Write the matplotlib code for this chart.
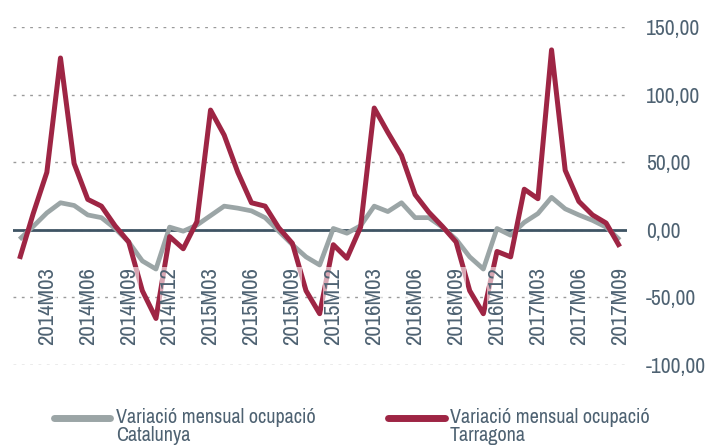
import matplotlib
matplotlib.use("Agg")
import matplotlib.pyplot as plt
from matplotlib.lines import Line2D
import numpy as np

months = [f"{y}M{m:02d}" for y in range(2014, 2018) for m in range(1, 13)][:45]
catalunya = [-7, 2.5, 12.5, 20, 18, 11, 9, 1, -9, -23, -29, 2,
             -1, 3.5, 10.5, 17.5, 16, 14, 9, -1, -11, -20, -26, 1,
             -2.5, 3, 17.5, 13.5, 20, 9, 9, 2, -7, -20, -29, 1,
             -4, 5.5, 12, 24, 15.5, 11, 7, 2, -7.5]
tarragona = [-21.5, 12, 42.5, 127, 49, 22.5, 17.5, 3, -9, -45, -65.5, -5,
             -14, 6, 88.5, 70, 42.5, 20, 17.5, 1.5, -10, -45, -62, -11,
             -21, 2, 90, 72, 55, 26, 13, 2.5, -9, -45, -62, -16,
             -20, 30, 23, 133, 44, 21, 11, 5, -12.5]
tick_labels = months[2::3]
yticks = [-100, -50, 0, 50, 100, 150]
legend_labels = ["Variació mensual ocupació\nCatalunya", "Variació mensual ocupació\nTarragona"]

font = ['Archivo Narrow', 'DejaVu Sans']
plt.rcParams['font.family'] = font
txt = '#4e6272'
gray = '#9ba5a6'
red = '#9e2544'

W, H = 708, 448
fig = plt.figure(figsize=(W / 100, H / 100), dpi=100)
ax = fig.add_axes([0.018, 0.185, 0.867, 0.755])
x = np.arange(len(months))
ax.plot(x, catalunya, color=gray, lw=3.4, solid_capstyle='butt', zorder=3)
ax.plot(x, tarragona, color=red, lw=3.6, solid_capstyle='butt', zorder=4)
ax.axhline(0, color='#3f5464', lw=2, zorder=2)

ax.set_xlim(-0.5, 44.5)
ax.set_ylim(-100, 150)
ax.spines['bottom'].set_position(('data', 0))
ax.set_yticks(yticks)
ax.set_yticklabels([f"{v:.2f}".replace('.', ',') for v in yticks])
ax.yaxis.tick_right()
ax.tick_params(axis='y', length=0, pad=14, labelsize=15.5, labelcolor=txt)
ax.grid(axis='y', color='#9a9a9a', ls=(0, (2, 4)), lw=1)
ax.set_axisbelow(True)

ax.set_xticks(x[2::3])
ax.tick_params(axis='x', length=0, pad=27, labelsize=16.5, labelcolor=txt)
ax.set_xticklabels(tick_labels, rotation=90)
for lab in ax.get_xticklabels():
    lab.set_bbox(dict(facecolor='white', alpha=0.6, edgecolor='none', pad=0))
ax.xaxis.set_zorder(5)
for s in ax.spines.values():
    s.set_visible(False)

# legend drawn by hand: handle aligned with the first text line
entries = [(legend_labels[0], gray, 54, 110, 116), (legend_labels[1], red, 388, 445, 450)]
for label, col, x0, x1, xt in entries:
    fig.add_artist(Line2D([x0 / W, x1 / W], [1 - 418 / H, 1 - 418 / H], color=col, lw=5,
                          solid_capstyle='round', transform=fig.transFigure))
    for i, line in enumerate(label.split('\n')):
        fig.text(xt / W, 1 - (423 + 18 * i) / H, line, fontsize=14.5, color=txt,
                 ha='left', va='baseline')

fig.savefig('out.png', dpi=100)
